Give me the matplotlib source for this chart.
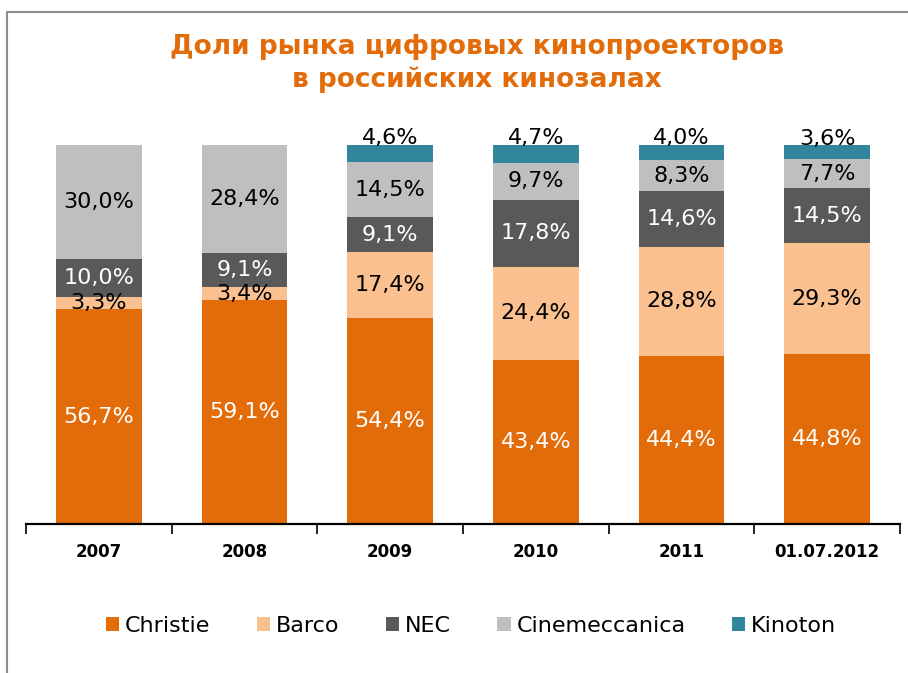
import matplotlib
matplotlib.use("Agg")
import matplotlib.pyplot as plt
import numpy as np
from matplotlib.patches import Rectangle, Patch

plt.rcParams["font.family"] = ["DejaVu Sans"]

CATEGORIES = ["2007", "2008", "2009", "2010", "2011", "01.07.2012"]
BRANDS = ["Christie", "Barco", "NEC", "Cinemeccanica", "Kinoton"]
CHRISTIE = [56.7, 59.1, 54.4, 43.4, 44.4, 44.8]
BARCO = [3.3, 3.4, 17.4, 24.4, 28.8, 29.3]
NEC = [10.0, 9.1, 9.1, 17.8, 14.6, 14.5]
CINEMECCANICA = [30.0, 28.4, 14.5, 9.7, 8.3, 7.7]
KINOTON = [0.0, 0.0, 4.6, 4.7, 4.0, 3.6]

COLORS = ["#E36C0A", "#FAC090", "#595959", "#BFBFBF", "#31859C"]
TXT = ["white", "black", "white", "black", "black"]
ORANGE = "#E36C0A"

series = [CHRISTIE, BARCO, NEC, CINEMECCANICA, KINOTON]

fig = plt.figure(figsize=(9.08, 6.73), dpi=100)

# рамка диаграммы (видны только левая и верхняя стороны)
fig.patches.append(Rectangle((7 / 908, -0.1), 1.2, 1 - 12 / 673 + 0.1,
                             transform=fig.transFigure, fill=False,
                             edgecolor="#8C8C8C", linewidth=1.5))

fig.text(477 / 908, 1 - 47 / 673, "Доли рынка цифровых кинопроекторов",
         ha="center", va="center", color=ORANGE, fontsize=19, fontweight="bold")
fig.text(477 / 908, 1 - 80 / 673, "в российских кинозалах",
         ha="center", va="center", color=ORANGE, fontsize=19, fontweight="bold")

ax = fig.add_axes([26 / 908, 1 - 524 / 673, 874 / 908, 379 / 673])
x = np.arange(len(CATEGORIES))
bottom = np.zeros(len(CATEGORIES))
for k, vals in enumerate(series):
    vals = np.array(vals)
    ax.bar(x, vals, width=0.59, bottom=bottom, color=COLORS[k], linewidth=0)
    for i, v in enumerate(vals):
        if v <= 0:
            continue
        lab = f"{v:.1f}%".replace(".", ",")
        if BRANDS[k] == "Kinoton":
            yy = bottom[i] + v + 1.8
        else:
            yy = bottom[i] + v / 2
        ax.text(x[i], yy, lab, ha="center", va="center",
                color=TXT[k], fontsize=16)
    bottom += vals

ax.set_xlim(-0.5, len(CATEGORIES) - 0.5)
ax.set_ylim(0, 100)
for s in ["left", "right", "top"]:
    ax.spines[s].set_visible(False)
ax.spines["bottom"].set_linewidth(1.6)
ax.set_yticks([])
ax.set_xticks(x)
ax.set_xticklabels(CATEGORIES, fontsize=12, fontweight="bold")
ax.tick_params(axis="x", which="major", length=0, pad=13.5)
ax.set_xticks(np.arange(len(CATEGORIES) + 1) - 0.5, minor=True)
ax.tick_params(axis="x", which="minor", length=7, width=1.2, direction="out")

handles = [Patch(facecolor=c, edgecolor="none") for c in COLORS]
fig.legend(handles, BRANDS, loc="center", bbox_to_anchor=(471 / 908, 1 - 626 / 673),
           ncol=5, frameon=False, fontsize=16, handlelength=0.6, handleheight=0.6,
           handletextpad=0.25, columnspacing=2.1)

fig.savefig("out.png", dpi=100)
